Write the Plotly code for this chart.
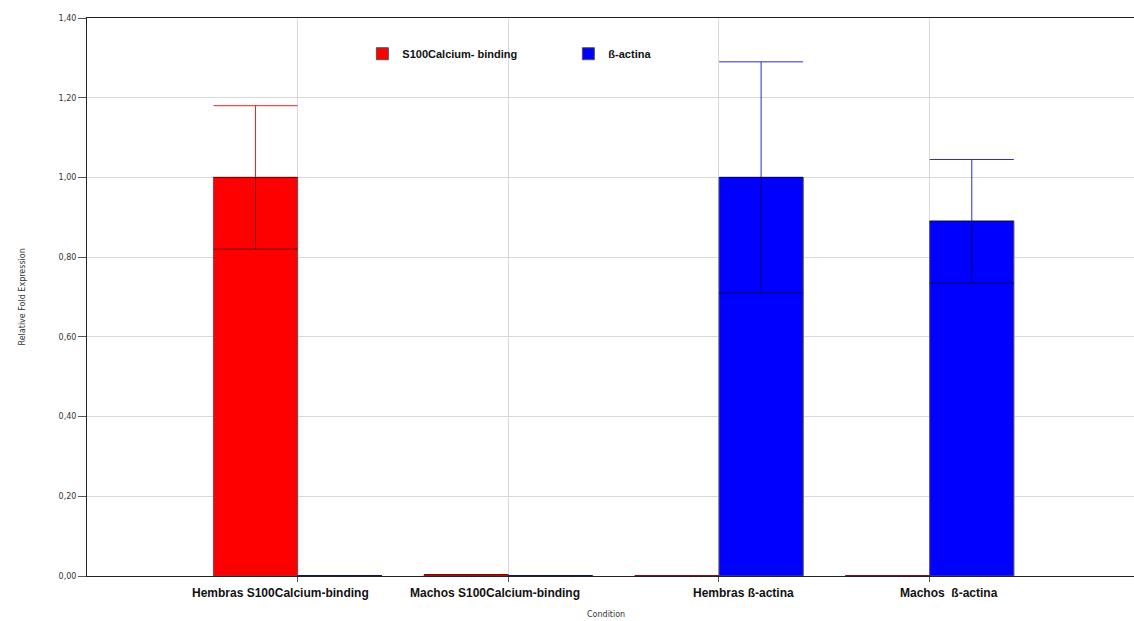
import plotly.graph_objects as go

categories = ["Hembras S100Calcium-binding", "Machos S100Calcium-binding",
              "Hembras ß-actina", "Machos  ß-actina"]
s100_values = [1.00, 0.003, 0.0, 0.0]
s100_errors = [0.18, 0.0, 0.0, 0.0]
actin_values = [0.0, 0.0, 1.00, 0.89]
actin_errors = [0.0, 0.0, 0.29, 0.155]
series_names = ["S100Calcium- binding", "ß-actina"]
y_ticks = [0.0, 0.2, 0.4, 0.6, 0.8, 1.0, 1.2, 1.4]

label_shift = [-17, -13, 25, 19]

def errs(e):
    return [v if v > 0 else None for v in e]

fig = go.Figure()

specs = [
    (series_names[0], s100_values, s100_errors, "#ff0000", "#ff1a1a", "#7a0000", -0.4),
    (series_names[1], actin_values, actin_errors, "#0000ff", "#2a2ad8", "#00006e", 0.0),
]
for name, vals, err, fill, upc, loc, off in specs:
    e = errs(err)
    zeros = [0 if v is not None else None for v in e]
    fig.add_trace(go.Bar(
        x=categories, y=vals, name=name, offset=off, width=0.4,
        marker=dict(color=fill, line=dict(color="#555555", width=1)),
        error_y=dict(type="data", array=e, arrayminus=zeros, symmetric=False,
                     color=upc, thickness=1, width=42),
    ))
for name, vals, err, fill, upc, loc, off in specs:
    e = errs(err)
    zeros = [0 if v is not None else None for v in e]
    fig.add_trace(go.Bar(
        x=categories, y=vals, name=name, offset=off, width=0.4, showlegend=False,
        marker=dict(color="rgba(0,0,0,0)", line=dict(width=0)),
        error_y=dict(type="data", array=zeros, arrayminus=e, symmetric=False,
                     color=loc, thickness=1, width=42),
        hoverinfo="skip",
    ))

for i, c in enumerate(categories):
    fig.add_annotation(x=c, y=0, xref="x", yref="y", yshift=-17, xshift=label_shift[i],
                       text="<b>%s</b>" % c, showarrow=False,
                       font=dict(family="Liberation Sans, Arial", size=12, color="#111111"))

fig.add_annotation(x=(606 - 87) / 1047, y=-(614 - 576) / 558, xref="paper", yref="paper",
                   text="Condition", showarrow=False, yanchor="middle",
                   font=dict(family="DejaVu Sans", size=8, color="#333333"))
fig.add_annotation(x=(15 - 87) / 1047, y=0.5, xref="paper", yref="paper",
                   text="Relative Fold Expression", showarrow=False, textangle=-90,
                   font=dict(family="DejaVu Sans", size=8, color="#333333"))

fig.update_layout(
    width=1134, height=621,
    margin=dict(l=87, r=0, t=18, b=45),
    paper_bgcolor="white", plot_bgcolor="white",
    barmode="overlay", separators=",.",
    showlegend=True,
    legend=dict(orientation="h", x=0.263, y=0.962, xanchor="left", yanchor="top",
                bgcolor="rgba(0,0,0,0)", entrywidth=161,
                font=dict(family="Liberation Sans, Arial", size=11, color="#111111")),
    xaxis=dict(range=[-1, 3.97], showgrid=True, gridcolor="#d9d9d9", gridwidth=1,
               showticklabels=False, ticks="outside", ticklen=5, tickcolor="#555555",
               showline=True, linecolor="#222222", linewidth=1, mirror=True,
               zeroline=False, fixedrange=True),
    yaxis=dict(range=[0, 1.4], tickvals=y_ticks, tickformat=".2f",
               showgrid=True, gridcolor="#d9d9d9", gridwidth=1,
               ticks="outside", ticklen=8, tickcolor="#555555",
               showline=True, linecolor="#222222", linewidth=1,
               zeroline=False, fixedrange=True,
               tickfont=dict(family="DejaVu Sans", size=8, color="#333333")),
    font=dict(family="Liberation Sans, Arial"),
)
fig.for_each_trace(lambda t: t.update(name="<b>%s</b>" % t.name))

fig.write_html("out.html", config={"displayModeBar": False},
               post_script="document.body.style.margin='0';document.body.style.overflow='hidden';")
